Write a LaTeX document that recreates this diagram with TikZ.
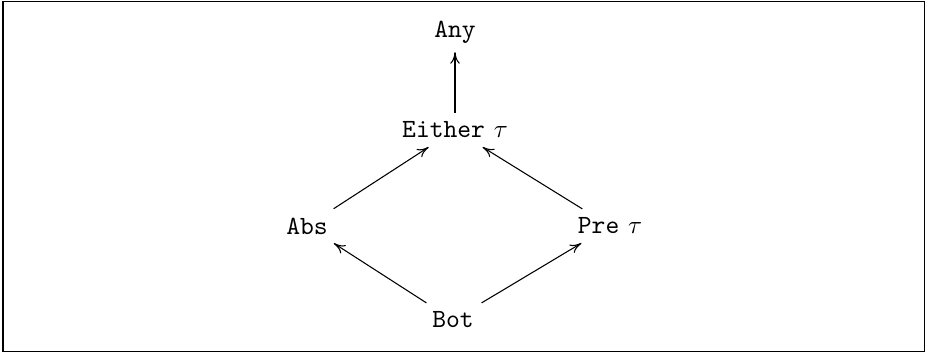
\documentclass[tikz,border=0pt]{standalone}
\usetikzlibrary{arrows.meta}
\begin{document}
\begin{tikzpicture}[x=0.392pt,y=-0.392pt,
    lat/.style={inner sep=3.33pt,font=\fontsize{10.3}{12}\selectfont},
    sub/.style={-{To[length=4.5pt,width=3.8pt]},line width=0.42pt}]
  \useasboundingbox (0,0) rectangle (926,353);
  \draw[line width=0.7pt] (3,1.5) rectangle (924.5,351.5);

  \node[lat] (any) at (455,32)  {\texttt{Any}};
  \node[lat] (either) at (455,130) {\texttt{Either}~$\tau$};
  \node[lat] (abs) at (307,226) {\texttt{Abs}};
  \node[lat] (pre) at (610,226) {\texttt{Pre}~$\tau$};
  \node[lat] (bot) at (453,320) {\texttt{Bot}};

  \draw[sub] (either) -- (any);
  \draw[sub] (abs) -- (either);
  \draw[sub] (pre) -- (either);
  \draw[sub] (bot) -- (abs);
  \draw[sub] (bot) -- (pre);
\end{tikzpicture}
\end{document}
